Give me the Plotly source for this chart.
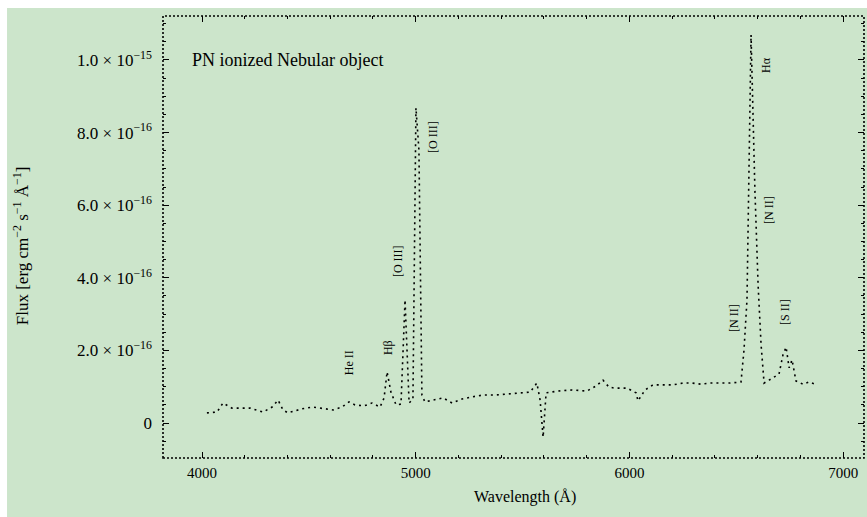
import plotly.graph_objects as go

# Optical spectrum: wavelength (Angstrom) and flux (units of 1e-17 erg cm^-2 s^-1 A^-1)
wavelength = [
    4023, 4070, 4098, 4140, 4178, 4225, 4285, 4328, 4356, 4379,
    4402, 4468, 4519, 4566, 4613, 4655, 4688, 4716, 4758, 4795,
    4833, 4852, 4866, 4884, 4908, 4931, 4950, 4969, 4987, 5001,
    5015, 5029, 5043, 5081, 5128, 5170, 5217, 5263, 5315, 5371,
    5432, 5488, 5535, 5567, 5582, 5596, 5610, 5666, 5731, 5801,
    5844, 5876, 5904, 5932, 5989, 6031, 6040, 6073, 6110, 6157,
    6204, 6251, 6293, 6335, 6377, 6424, 6470, 6522, 6536, 6550,
    6569, 6587, 6602, 6616, 6630, 6653, 6676, 6700, 6718, 6733,
    6747, 6761, 6779, 6812, 6840, 6868,
]
flux_e17 = [
    2.8, 3.0, 5.5, 4.1, 4.1, 4.1, 3.0, 4.4, 6.3, 3.6,
    2.8, 3.9, 4.4, 4.1, 3.6, 4.4, 5.8, 5.0, 4.7, 5.5,
    4.4, 6.9, 14.1, 8.5, 5.0, 5.2, 33.9, 5.5, 6.6, 86.8,
    75.2, 7.7, 5.8, 6.3, 6.9, 5.5, 6.6, 7.2, 7.7, 7.7,
    8.0, 8.3, 8.5, 11.0, 6.3, -3.9, 8.3, 8.8, 9.1, 8.8,
    10.2, 11.8, 9.9, 9.6, 9.6, 8.3, 6.1, 9.1, 10.5, 10.5,
    10.5, 11.0, 11.0, 10.7, 11.0, 11.0, 11.0, 11.3, 20.1, 33.9,
    106.9, 64.2, 38.0, 21.5, 11.0, 11.8, 12.7, 13.5, 18.7, 20.9,
    15.2, 17.4, 11.6, 10.7, 11.3, 10.7,
]
flux = [f * 1e-17 for f in flux_e17]

# Emission-line identifications (placed beside each line)
line_names = ["He II", "Hβ", "[O III]", "[O III]", "[N II]", "Hα", "[N II]", "[S II]"]
line_label_wl = [4688, 4870, 4917, 5081, 6489, 6639, 6653, 6728]
line_label_flux_e17 = [16.5, 20.9, 44.6, 78.8, 28.9, 98.6, 58.7, 30.6]

# Axis ticks
x_ticks = [4000, 5000, 6000, 7000]
y_ticks = [0, 2e-16, 4e-16, 6e-16, 8e-16, 1e-15]
y_tick_text = ["0", "2.0 × 10<sup>−16</sup>", "4.0 × 10<sup>−16</sup>",
               "6.0 × 10<sup>−16</sup>", "8.0 × 10<sup>−16</sup>",
               "1.0 × 10<sup>−15</sup>"]

GREEN = "#cce5cb"
FONT = "Liberation Serif"

fig = go.Figure()
fig.add_trace(go.Scatter(
    x=wavelength, y=flux, mode="lines",
    line=dict(color="black", width=1.6, dash="2px,4px"),
    hoverinfo="x+y", showlegend=False,
))

for name, wl, fl in zip(line_names, line_label_wl, line_label_flux_e17):
    fig.add_annotation(x=wl, y=fl * 1e-17, text=name, textangle=-90,
                       showarrow=False, font=dict(family=FONT, size=12, color="black"))

fig.add_annotation(x=0.038, y=0.9, xref="paper", yref="paper",
                   text="PN ionized Nebular object", showarrow=False,
                   xanchor="left", yanchor="middle",
                   font=dict(family=FONT, size=18, color="black"))

# axis titles
fig.add_annotation(x=-0.222, y=0.48, xref="paper", yref="paper",
                   text="Flux [erg cm<sup>−2</sup> s<sup>−1</sup> Å<sup>−1</sup>]",
                   textangle=-90, showarrow=False,
                   font=dict(family=FONT, size=17, color="black"))
fig.add_annotation(x=0.516, y=-0.088, xref="paper", yref="paper",
                   text="Wavelength (Å)", showarrow=False, yanchor="middle",
                   font=dict(family=FONT, size=16, color="black"))

# page background panel and dotted frame
fig.add_shape(type="rect", xref="paper", yref="paper",
              x0=-0.2225, x1=1.1, y0=-0.2, y1=1.018,
              fillcolor=GREEN, line=dict(width=0), layer="below")
fig.add_shape(type="rect", xref="paper", yref="paper",
              x0=0, x1=1, y0=0, y1=1,
              line=dict(color="black", width=1.6, dash="2px,2px"), layer="above")

fig.update_xaxes(
    range=[3817.5, 7097.5], tickmode="array", tickvals=x_ticks,
    ticks="inside", ticklen=6, tickcolor="black", mirror="ticks",
    showgrid=False, zeroline=False, showline=False, ticklabelstandoff=4,
    tickfont=dict(family=FONT, size=15, color="black"),
    minor=dict(ticks="inside", ticklen=3, tickcolor="black",
               tickmode="linear", tick0=4000, dtick=200, showgrid=False),
)
fig.update_yaxes(
    range=[-9.64e-17, 1.121e-15], tickmode="array", tickvals=y_ticks,
    ticktext=y_tick_text,
    ticks="inside", ticklen=6, tickcolor="black", mirror="ticks",
    showgrid=False, zeroline=False, showline=False, ticklabelstandoff=10,
    tickfont=dict(family=FONT, size=17, color="black"),
    minor=dict(ticks="inside", ticklen=3, tickcolor="black",
               tickmode="linear", tick0=0, dtick=5e-17, showgrid=False),
)

fig.update_layout(
    width=867, height=517,
    margin=dict(l=163, r=3, t=16, b=59),
    paper_bgcolor="white", plot_bgcolor=GREEN,
    font=dict(family=FONT, color="black"),
)

fig.write_html("out.html")
